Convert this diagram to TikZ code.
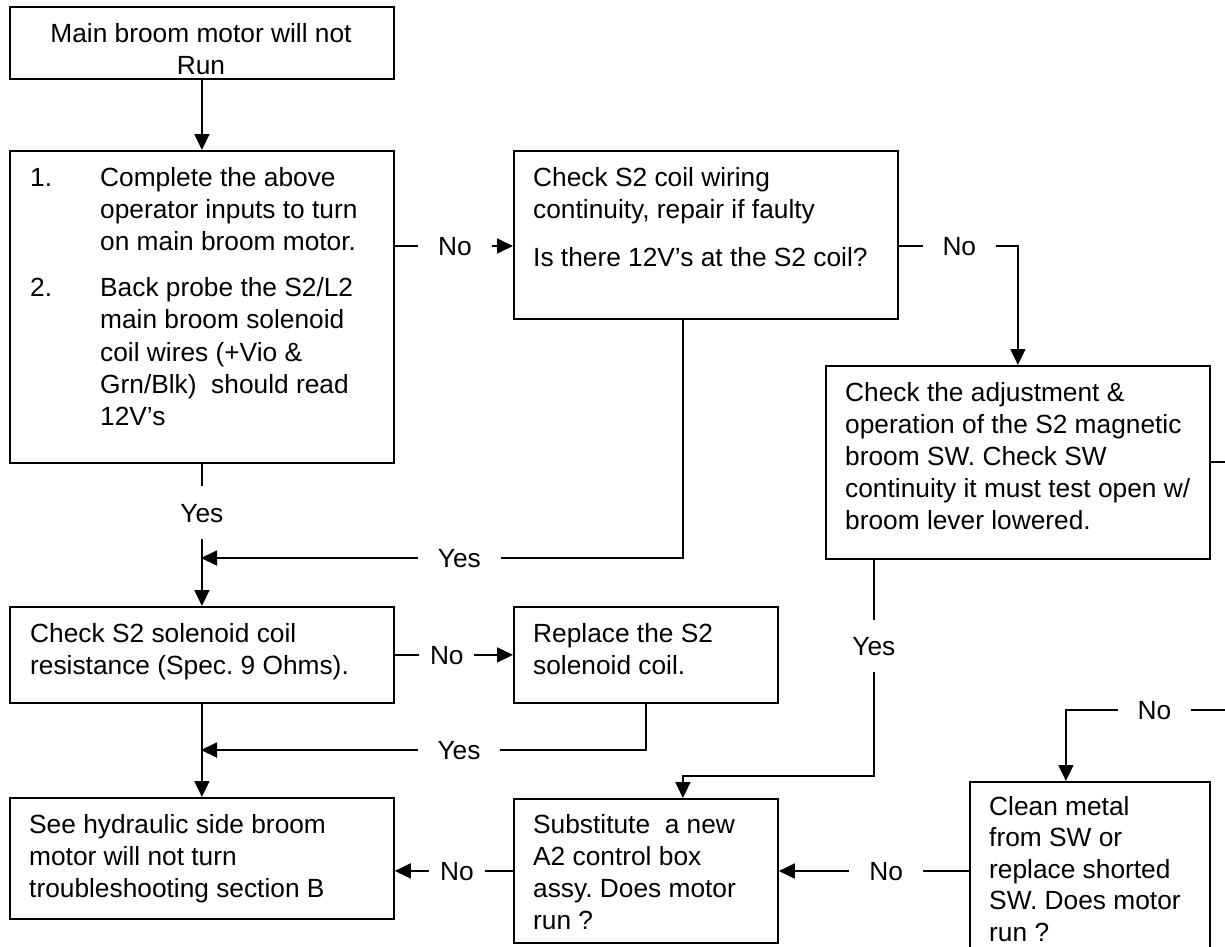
\documentclass[tikz,border=0pt]{standalone}
\usepackage{fontspec}
\setmainfont{Liberation Sans}
\usetikzlibrary{arrows.meta}
\newcommand{\fh}{\rule{0pt}{20bp}}
\frenchspacing
\begin{document}
\begin{tikzpicture}[x=1bp,y=-1bp,
  box/.style={draw, line width=1.8bp, inner sep=0pt, anchor=north west},
  txt/.style={anchor=north west, inner sep=0pt, align=left, font=\fontsize{26.4pt}{32.3pt}\selectfont\frenchspacing},
  lbl/.style={fill=white, inner ysep=0pt, inner xsep=20bp, text height=19bp, text depth=0pt, font=\fontsize{26.4pt}{32.3pt}\selectfont},
  conn/.style={line width=1.8bp},
  arr/.style={conn, -{Triangle[length=16bp,width=15bp]}}]
\path[use as bounding box, fill=white] (0,0) rectangle (1225,947);

% boxes
\node[box, minimum width=384bp, minimum height=72bp]  (A) at (9,6) {};
\node[box, minimum width=384bp, minimum height=312bp] (B) at (9,150) {};
\node[box, minimum width=384bp, minimum height=168bp] (C) at (513,150) {};
\node[box, minimum width=384bp, minimum height=193bp] (D) at (825,365) {};
\node[box, minimum width=384bp, minimum height=96bp]  (H) at (9,606) {};
\node[box, minimum width=264bp, minimum height=96bp]  (R) at (513,606) {};
\node[box, minimum width=384bp, minimum height=121bp] (F) at (9,797) {};
\node[box, minimum width=264bp, minimum height=144bp] (G) at (513,798) {};
\node[box, minimum width=240bp, minimum height=200bp] (E) at (969,781) {};

% texts
\node[txt, align=center, anchor=north] (At) at (201,22) {\fh Main broom motor will not\\Run};
\node[txt] (Bt) at (30,166) {\fh\makebox[70bp][l]{1.}Complete the above\\
\hspace*{70bp}operator inputs to turn\\
\hspace*{70bp}on main broom motor.\\[14bp]
\makebox[70bp][l]{2.}Back probe the S2/L2\\
\hspace*{70bp}main broom solenoid\\
\hspace*{70bp}coil wires (+Vio \&\\
\hspace*{70bp}Grn/Blk)~~should read\\
\hspace*{70bp}12V’s};
\node[txt] (Ct) at (533,166) {\fh Check S2 coil wiring\\continuity, repair if faulty\\[16bp]Is there 12V’s at the S2 coil?};
\node[txt] (Dt) at (845,381) {\fh Check the adjustment \&\\operation of the S2 magnetic\\broom SW. Check SW\\continuity it must test open w/\\broom lever lowered.};
\node[txt] (Ht) at (30,622) {\fh Check S2 solenoid coil\\resistance (Spec. 9 Ohms).};
\node[txt] (Rt) at (533,622) {\fh Replace the S2\\solenoid coil.};
\node[txt] (Ft) at (29,813) {\fh See hydraulic side broom\\motor will not turn\\troubleshooting section B};
\node[txt] (Gt) at (533,813) {\fh Substitute~~a new\\A2 control box\\assy. Does motor\\run ?};
\node[txt, font=\fontsize{26.4pt}{31.7pt}\selectfont\frenchspacing] (Et) at (989,795) {\fh Clean metal\\from SW or\\replace shorted\\SW. Does motor\\run ?};

% junction and edge coordinates
\coordinate (m1) at (201,558);
\coordinate (m2) at (201,750);
\coordinate (e1) at ([yshift=-90bp]E.north west);
\coordinate (r2) at (1240,710);
\coordinate (r1) at (1240,462);

% connectors
\draw[arr] (A.south) -- (B.north);
\draw[arr] ([yshift=-96bp]B.north east) -- ([yshift=-96bp]C.north west)
  node[lbl, pos=0.508] {No};
\draw[arr] ([yshift=-96bp]C.north east) -| (D.north)
  node[lbl, pos=0.254] {No};
\draw[arr] (B.south) -- (H.north)
  node[lbl, pos=0.344, inner ysep=17bp] {Yes};
\draw[arr] ([xshift=-23bp]C.south) |- (m1)
  node[lbl, pos=0.732] {Yes};
\draw[arr] (H.east) -- (R.west)
  node[lbl, pos=0.44, inner xsep=10.7bp] {No};
\draw[arr] (H.south) -- (F.north);
\draw[arr] (R.south) |- (m2)
  node[lbl, pos=0.71] {Yes};
\draw[arr] ([xshift=-144bp]D.south) -- ++(0,216)
  node[lbl, pos=0.398, inner ysep=16.5bp] {Yes}
  -| ([xshift=37bp]G.north);
\draw[arr] (G.west) -- (G.west -| F.east)
  node[lbl, pos=0.475, inner xsep=11bp] {No};
\draw[arr] (e1) -- (e1 -| G.east)
  node[lbl, pos=0.435] {No};
\draw[arr] (r2) -| ([xshift=-24bp]E.north)
  node[lbl, pos=0.246] {No};
\draw[conn] ([yshift=-97bp]D.north east) -- (r1);
\end{tikzpicture}
\end{document}
